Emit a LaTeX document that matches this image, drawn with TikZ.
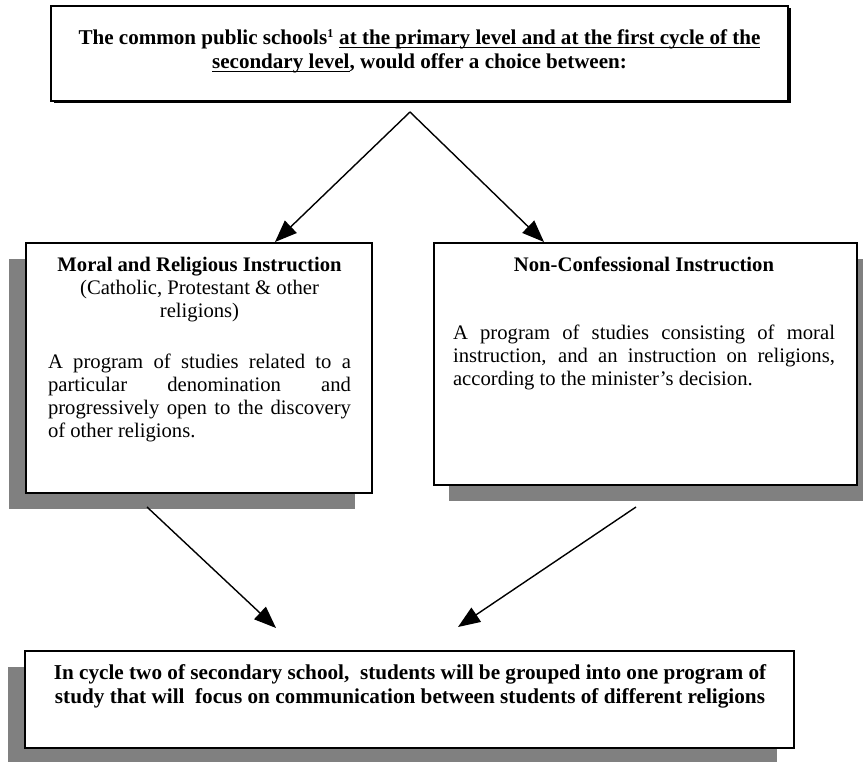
\documentclass[tikz,border=0pt]{standalone}
\usepackage{fontspec}
\setmainfont{Liberation Serif}
\usetikzlibrary{arrows.meta,backgrounds}
\definecolor{shadegray}{HTML}{808080}
\newcommand\myul[1]{\leavevmode\setbox0\hbox{#1}\rlap{\rule[-2.6pt]{\wd0}{0.8pt}}\box0}
\tikzset{
  box/.style={draw=black, fill=white, line width=1pt, inner sep=0pt, outer sep=0pt, anchor=north west},
  topbox/.style={box, line width=2pt},
  shadowfill/.style={fill=shadegray},
  blackshadow/.style={fill=black},
  conn/.style={draw=black, line width=1.05pt, -{Triangle[length=16.5pt,width=12.75pt]}},
  txt/.style={inner sep=0pt, outer sep=0pt, anchor=base west},
}
\begin{document}
\begin{tikzpicture}[x=0.75pt,y=-0.75pt]
\useasboundingbox (0,0) rectangle (863,762);

% boxes
\node[topbox, minimum width=737*0.75pt, minimum height=95*0.75pt] (top) at (51,6) {};
\node[box, minimum width=346*0.75pt, minimum height=250*0.75pt] (left) at (26,243) {};
\node[box, minimum width=423*0.75pt, minimum height=242*0.75pt] (right) at (434,243) {};
\node[box, minimum width=769*0.75pt, minimum height=97*0.75pt] (bottom) at (25,651) {};

% shadows
\begin{scope}[on background layer]
\fill[blackshadow] ([shift={(2.5,2.5)}]top.north west) rectangle ([shift={(2.5,2.5)}]top.south east);
\fill[shadowfill] ([shift={(-17,16)}]left.north west) rectangle ([shift={(-17,16)}]left.south east);
\fill[shadowfill] ([shift={(15,16)}]right.north west) rectangle ([shift={(15,16)}]right.south east);
\fill[shadowfill] ([shift={(-17,16)}]bottom.north west) rectangle ([shift={(-17,16)}]bottom.south east);
\end{scope}

% texts
\node[txt, anchor=base] (toptext) at (419.5,44.6) {\begin{minipage}[t]{550pt}\fontsize{15.8}{18}\selectfont\bfseries\centering
The common public schools\textsuperscript{\fontsize{9}{9}\selectfont 1} \myul{at the primary level and at the first cycle of the}\\
\myul{secondary level}, would offer a choice between:\end{minipage}};

\node[txt] (lefttext) at (48,272) {\begin{minipage}[t]{227.25pt}\fontsize{15.5}{17.25}\selectfont
{\centering\bfseries Moral and Religious Instruction\par}
{\centering (Catholic, Protestant \& other\\ religions)\par}
\vspace{21pt}
A program of studies related to a\linebreak
particular denomination and\linebreak
progressively open to the discovery\linebreak
of other religions.\end{minipage}};

\node[txt] (righttext) at (453,272) {\begin{minipage}[t]{286.5pt}\fontsize{15.5}{17.25}\selectfont
{\centering\bfseries Non-Confessional Instruction\par}
\vspace{33.75pt}
A program of studies consisting of moral\linebreak
instruction, and an instruction on religions,\linebreak
according to the minister’s decision.\end{minipage}};

\node[txt, anchor=base] (bottomtext) at (410,679) {\begin{minipage}[t]{570pt}\fontsize{15.9}{18}\selectfont\bfseries\centering
In cycle two of secondary school, \ students will be grouped into one program of\\
study that will \ focus on communication between students of different religions\end{minipage}};

% connectors
\coordinate (apex) at (410,112);
\coordinate (tipL) at (275,242);
\coordinate (tipR) at (544,242);
\coordinate (startBL) at (147,507);
\coordinate (startBR) at (636,507);
\coordinate (tipBL) at (276,628);
\coordinate (tipBR) at (458,627);
\draw[conn] (apex) -- (tipL);
\draw[conn] (apex) -- (tipR);
\draw[conn] (startBL) -- (tipBL);
\draw[conn] (startBR) -- (tipBR);
\end{tikzpicture}
\end{document}
